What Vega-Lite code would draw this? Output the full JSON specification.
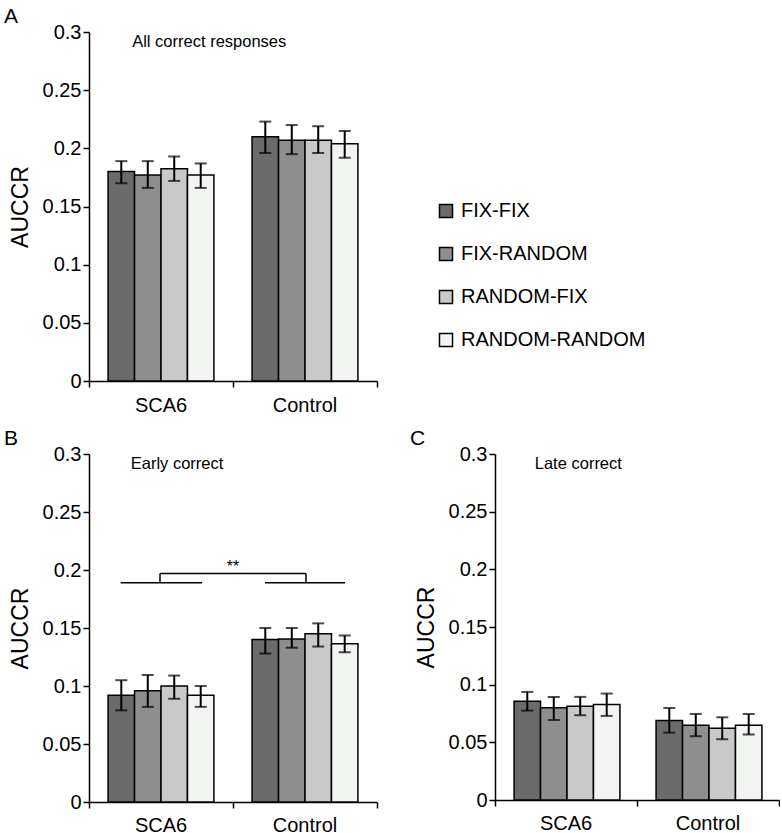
{
  "$schema": "https://vega.github.io/schema/vega-lite/v6.json",
  "padding": {"left": 4, "top": 6, "right": 0, "bottom": 0},
  "config": {
    "font": "Liberation Sans",
    "view": {"stroke": null},
    "axis": {"grid": false, "domainColor": "black", "domainWidth": 1.5, "tickColor": "black", "tickWidth": 1.5, "tickSize": 6, "labelFontSize": 20, "labelColor": "black", "titleFontSize": 23, "titleFontWeight": "normal", "titleColor": "black", "labelFont": "Liberation Sans", "titleFont": "Liberation Sans"},
    "title": {"fontSize": 21, "fontWeight": "normal", "anchor": "start", "frame": "bounds", "color": "black", "offset": -5, "dx": -5, "font": "Liberation Sans"},
    "text": {"font": "Liberation Sans"}
  },
  "datasets": {
    "bars": [
      {"panel": "A", "group": "SCA6", "condition": "FIX-FIX", "mean": 0.180, "lo": 0.170, "hi": 0.189},
      {"panel": "A", "group": "SCA6", "condition": "FIX-RANDOM", "mean": 0.177, "lo": 0.166, "hi": 0.189},
      {"panel": "A", "group": "SCA6", "condition": "RANDOM-FIX", "mean": 0.1825, "lo": 0.172, "hi": 0.193},
      {"panel": "A", "group": "SCA6", "condition": "RANDOM-RANDOM", "mean": 0.177, "lo": 0.166, "hi": 0.187},
      {"panel": "A", "group": "Control", "condition": "FIX-FIX", "mean": 0.210, "lo": 0.196, "hi": 0.223},
      {"panel": "A", "group": "Control", "condition": "FIX-RANDOM", "mean": 0.207, "lo": 0.195, "hi": 0.220},
      {"panel": "A", "group": "Control", "condition": "RANDOM-FIX", "mean": 0.207, "lo": 0.196, "hi": 0.219},
      {"panel": "A", "group": "Control", "condition": "RANDOM-RANDOM", "mean": 0.204, "lo": 0.192, "hi": 0.215},
      {"panel": "B", "group": "SCA6", "condition": "FIX-FIX", "mean": 0.092, "lo": 0.079, "hi": 0.105},
      {"panel": "B", "group": "SCA6", "condition": "FIX-RANDOM", "mean": 0.096, "lo": 0.082, "hi": 0.1095},
      {"panel": "B", "group": "SCA6", "condition": "RANDOM-FIX", "mean": 0.100, "lo": 0.089, "hi": 0.109},
      {"panel": "B", "group": "SCA6", "condition": "RANDOM-RANDOM", "mean": 0.092, "lo": 0.082, "hi": 0.100},
      {"panel": "B", "group": "Control", "condition": "FIX-FIX", "mean": 0.140, "lo": 0.128, "hi": 0.150},
      {"panel": "B", "group": "Control", "condition": "FIX-RANDOM", "mean": 0.1405, "lo": 0.133, "hi": 0.150},
      {"panel": "B", "group": "Control", "condition": "RANDOM-FIX", "mean": 0.145, "lo": 0.134, "hi": 0.154},
      {"panel": "B", "group": "Control", "condition": "RANDOM-RANDOM", "mean": 0.1365, "lo": 0.129, "hi": 0.1435},
      {"panel": "C", "group": "SCA6", "condition": "FIX-FIX", "mean": 0.0856, "lo": 0.0775, "hi": 0.0937},
      {"panel": "C", "group": "SCA6", "condition": "FIX-RANDOM", "mean": 0.080, "lo": 0.0694, "hi": 0.0894},
      {"panel": "C", "group": "SCA6", "condition": "RANDOM-FIX", "mean": 0.0813, "lo": 0.0735, "hi": 0.0894},
      {"panel": "C", "group": "SCA6", "condition": "RANDOM-RANDOM", "mean": 0.0827, "lo": 0.0729, "hi": 0.0923},
      {"panel": "C", "group": "Control", "condition": "FIX-FIX", "mean": 0.069, "lo": 0.0584, "hi": 0.0798},
      {"panel": "C", "group": "Control", "condition": "FIX-RANDOM", "mean": 0.0648, "lo": 0.0553, "hi": 0.0746},
      {"panel": "C", "group": "Control", "condition": "RANDOM-FIX", "mean": 0.0622, "lo": 0.0527, "hi": 0.0717},
      {"panel": "C", "group": "Control", "condition": "RANDOM-RANDOM", "mean": 0.0648, "lo": 0.0567, "hi": 0.0746}
    ],
    "notes": [
      {"panel": "A", "kind": "title", "tx": 0.30, "ty": 0.291, "label": "All correct responses"},
      {"panel": "B", "kind": "title", "tx": 0.29, "ty": 0.291, "label": "Early correct"},
      {"panel": "C", "kind": "title", "tx": 0.28, "ty": 0.291, "label": "Late correct"},
      {"panel": "B", "kind": "stars", "tx": 1.0, "ty": 0.203, "label": "**"}
    ],
    "bracket": [
      {"x1": 0.22, "x2": 0.785, "y1": 0.189, "y2": 0.189},
      {"x1": 1.222, "x2": 1.778, "y1": 0.189, "y2": 0.189},
      {"x1": 0.493, "x2": 0.493, "y1": 0.189, "y2": 0.197},
      {"x1": 0.493, "x2": 1.507, "y1": 0.197, "y2": 0.197},
      {"x1": 1.507, "x2": 1.507, "y1": 0.197, "y2": 0.189}
    ]
  },
  "spacing": 13,
  "resolve": {"scale": {"fill": "independent"}, "legend": {"fill": "independent"}},
  "vconcat": [
    {
      "width": 288, "height": 349,
      "title": {"text": "A"},
      "layer": [
        {
          "data": {"name": "bars"},
          "transform": [{"filter": "datum.panel === 'A'"}],
          "encoding": {
            "x": {"field": "group", "type": "nominal", "scale": {"domain": ["SCA6", "Control"], "paddingInner": 0, "paddingOuter": 0}, "axis": {"title": null, "ticks": false, "tickSize": 0, "labelAngle": 0, "labelPadding": 14}},
            "xOffset": {"field": "condition", "type": "nominal", "scale": {"domain": ["FIX-FIX", "FIX-RANDOM", "RANDOM-FIX", "RANDOM-RANDOM"], "paddingInner": 0, "paddingOuter": 0.72}}
          },
          "layer": [
            {"mark": {"type": "bar", "stroke": "black", "strokeWidth": 1.5},
             "encoding": {
               "y": {"field": "mean", "type": "quantitative", "scale": {"domain": [0, 0.3], "nice": false}, "axis": {"title": "AUCCR", "values": [0, 0.05, 0.1, 0.15, 0.2, 0.25, 0.3], "format": "~g", "titlePadding": 10}},
               "fill": {"field": "condition", "type": "nominal", "scale": {"domain": ["FIX-FIX", "FIX-RANDOM", "RANDOM-FIX", "RANDOM-RANDOM"], "range": ["#6b6b6b", "#8e8e8e", "#c9c9c9", "#f2f4f2"]},
                 "legend": {"orient": "none", "legendX": 347, "legendY": 169, "title": null, "symbolType": "square", "symbolSize": 170, "symbolStrokeColor": "black", "symbolStrokeWidth": 1.5, "labelFontSize": 20, "labelColor": "black", "rowPadding": 23, "labelOffset": 5, "labelLimit": 0, "labelFont": "Liberation Sans"}}
             }},
            {"mark": {"type": "rule", "strokeWidth": 2, "color": "black"}, "encoding": {"y": {"field": "lo", "type": "quantitative"}, "y2": {"field": "hi"}}},
            {"mark": {"type": "tick", "size": 12, "thickness": 2, "color": "black"}, "encoding": {"y": {"field": "lo", "type": "quantitative"}}},
            {"mark": {"type": "tick", "size": 12, "thickness": 2, "color": "black"}, "encoding": {"y": {"field": "hi", "type": "quantitative"}}}
          ]
        },
        {
          "data": {"name": "notes"},
          "transform": [{"filter": "datum.panel === 'A' && datum.kind === 'title'"}],
          "mark": {"type": "text", "align": "left", "baseline": "middle", "fontSize": 16.5, "color": "black"},
          "encoding": {
            "x": {"field": "tx", "type": "quantitative", "scale": {"domain": [0, 2], "nice": false, "zero": false}, "axis": {"orient": "bottom", "values": [0, 1, 2], "labels": false, "domain": false, "title": null, "ticks": true, "tickSize": 6}},
            "y": {"field": "ty", "type": "quantitative", "title": "AUCCR"},
            "text": {"field": "label"}
          }
        }
      ],
      "resolve": {"scale": {"x": "independent"}, "axis": {"x": "independent"}}
    },
    {
      "spacing": 32,
      "resolve": {"scale": {"fill": "independent"}, "legend": {"fill": "independent"}},
      "hconcat": [
        {
          "width": 288, "height": 348,
          "title": {"text": "B"},
          "layer": [
            {
              "data": {"name": "bars"},
              "transform": [{"filter": "datum.panel === 'B'"}],
              "encoding": {
                "x": {"field": "group", "type": "nominal", "scale": {"domain": ["SCA6", "Control"], "paddingInner": 0, "paddingOuter": 0}, "axis": {"title": null, "ticks": false, "tickSize": 0, "labelAngle": 0, "labelPadding": 13}},
                "xOffset": {"field": "condition", "type": "nominal", "scale": {"domain": ["FIX-FIX", "FIX-RANDOM", "RANDOM-FIX", "RANDOM-RANDOM"], "paddingInner": 0, "paddingOuter": 0.72}}
              },
              "layer": [
                {"mark": {"type": "bar", "stroke": "black", "strokeWidth": 1.5},
                 "encoding": {
                   "y": {"field": "mean", "type": "quantitative", "scale": {"domain": [0, 0.3], "nice": false}, "axis": {"title": "AUCCR", "values": [0, 0.05, 0.1, 0.15, 0.2, 0.25, 0.3], "format": "~g", "titlePadding": 10}},
                   "fill": {"field": "condition", "type": "nominal", "scale": {"domain": ["FIX-FIX", "FIX-RANDOM", "RANDOM-FIX", "RANDOM-RANDOM"], "range": ["#6b6b6b", "#8e8e8e", "#c9c9c9", "#f2f4f2"]}, "legend": null}
                 }},
                {"mark": {"type": "rule", "strokeWidth": 2, "color": "black"}, "encoding": {"y": {"field": "lo", "type": "quantitative"}, "y2": {"field": "hi"}}},
                {"mark": {"type": "tick", "size": 12, "thickness": 2, "color": "black"}, "encoding": {"y": {"field": "lo", "type": "quantitative"}}},
                {"mark": {"type": "tick", "size": 12, "thickness": 2, "color": "black"}, "encoding": {"y": {"field": "hi", "type": "quantitative"}}}
              ]
            },
            {
              "layer": [
                {
                  "data": {"name": "notes"},
                  "transform": [{"filter": "datum.panel === 'B' && datum.kind === 'title'"}],
                  "mark": {"type": "text", "align": "left", "baseline": "middle", "fontSize": 16.5, "color": "black"},
                  "encoding": {
                    "x": {"field": "tx", "type": "quantitative", "scale": {"domain": [0, 2], "nice": false, "zero": false}, "axis": {"orient": "bottom", "values": [0, 1, 2], "labels": false, "domain": false, "title": null, "ticks": true, "tickSize": 6}},
                    "y": {"field": "ty", "type": "quantitative", "title": "AUCCR"},
                    "text": {"field": "label"}
                  }
                },
                {
                  "data": {"name": "notes"},
                  "transform": [{"filter": "datum.panel === 'B' && datum.kind === 'stars'"}],
                  "mark": {"type": "text", "align": "center", "baseline": "middle", "fontSize": 16, "color": "black"},
                  "encoding": {
                    "x": {"field": "tx", "type": "quantitative"},
                    "y": {"field": "ty", "type": "quantitative"},
                    "text": {"field": "label"}
                  }
                },
                {
                  "data": {"name": "bracket"},
                  "mark": {"type": "rule", "strokeWidth": 1.5, "color": "black"},
                  "encoding": {
                    "x": {"field": "x1", "type": "quantitative"},
                    "x2": {"field": "x2"},
                    "y": {"field": "y1", "type": "quantitative"},
                    "y2": {"field": "y2"}
                  }
                }
              ]
            }
          ],
          "resolve": {"scale": {"x": "independent"}, "axis": {"x": "independent"}}
        },
        {
          "width": 284, "height": 346,
          "title": {"text": "C"},
          "layer": [
            {
              "data": {"name": "bars"},
              "transform": [{"filter": "datum.panel === 'C'"}],
              "encoding": {
                "x": {"field": "group", "type": "nominal", "scale": {"domain": ["SCA6", "Control"], "paddingInner": 0, "paddingOuter": 0}, "axis": {"title": null, "ticks": false, "tickSize": 0, "labelAngle": 0, "labelPadding": 13}},
                "xOffset": {"field": "condition", "type": "nominal", "scale": {"domain": ["FIX-FIX", "FIX-RANDOM", "RANDOM-FIX", "RANDOM-RANDOM"], "paddingInner": 0, "paddingOuter": 0.72}}
              },
              "layer": [
                {"mark": {"type": "bar", "stroke": "black", "strokeWidth": 1.5},
                 "encoding": {
                   "y": {"field": "mean", "type": "quantitative", "scale": {"domain": [0, 0.3], "nice": false}, "axis": {"title": "AUCCR", "values": [0, 0.05, 0.1, 0.15, 0.2, 0.25, 0.3], "format": "~g", "titlePadding": 10}},
                   "fill": {"field": "condition", "type": "nominal", "scale": {"domain": ["FIX-FIX", "FIX-RANDOM", "RANDOM-FIX", "RANDOM-RANDOM"], "range": ["#6b6b6b", "#8e8e8e", "#c9c9c9", "#f2f4f2"]}, "legend": null}
                 }},
                {"mark": {"type": "rule", "strokeWidth": 2, "color": "black"}, "encoding": {"y": {"field": "lo", "type": "quantitative"}, "y2": {"field": "hi"}}},
                {"mark": {"type": "tick", "size": 12, "thickness": 2, "color": "black"}, "encoding": {"y": {"field": "lo", "type": "quantitative"}}},
                {"mark": {"type": "tick", "size": 12, "thickness": 2, "color": "black"}, "encoding": {"y": {"field": "hi", "type": "quantitative"}}}
              ]
            },
            {
              "data": {"name": "notes"},
              "transform": [{"filter": "datum.panel === 'C' && datum.kind === 'title'"}],
              "mark": {"type": "text", "align": "left", "baseline": "middle", "fontSize": 16.5, "color": "black"},
              "encoding": {
                "x": {"field": "tx", "type": "quantitative", "scale": {"domain": [0, 2], "nice": false, "zero": false}, "axis": {"orient": "bottom", "values": [0, 1, 2], "labels": false, "domain": false, "title": null, "ticks": true, "tickSize": 6}},
                "y": {"field": "ty", "type": "quantitative", "title": "AUCCR"},
                "text": {"field": "label"}
              }
            }
          ],
          "resolve": {"scale": {"x": "independent"}, "axis": {"x": "independent"}}
        }
      ]
    }
  ]
}
